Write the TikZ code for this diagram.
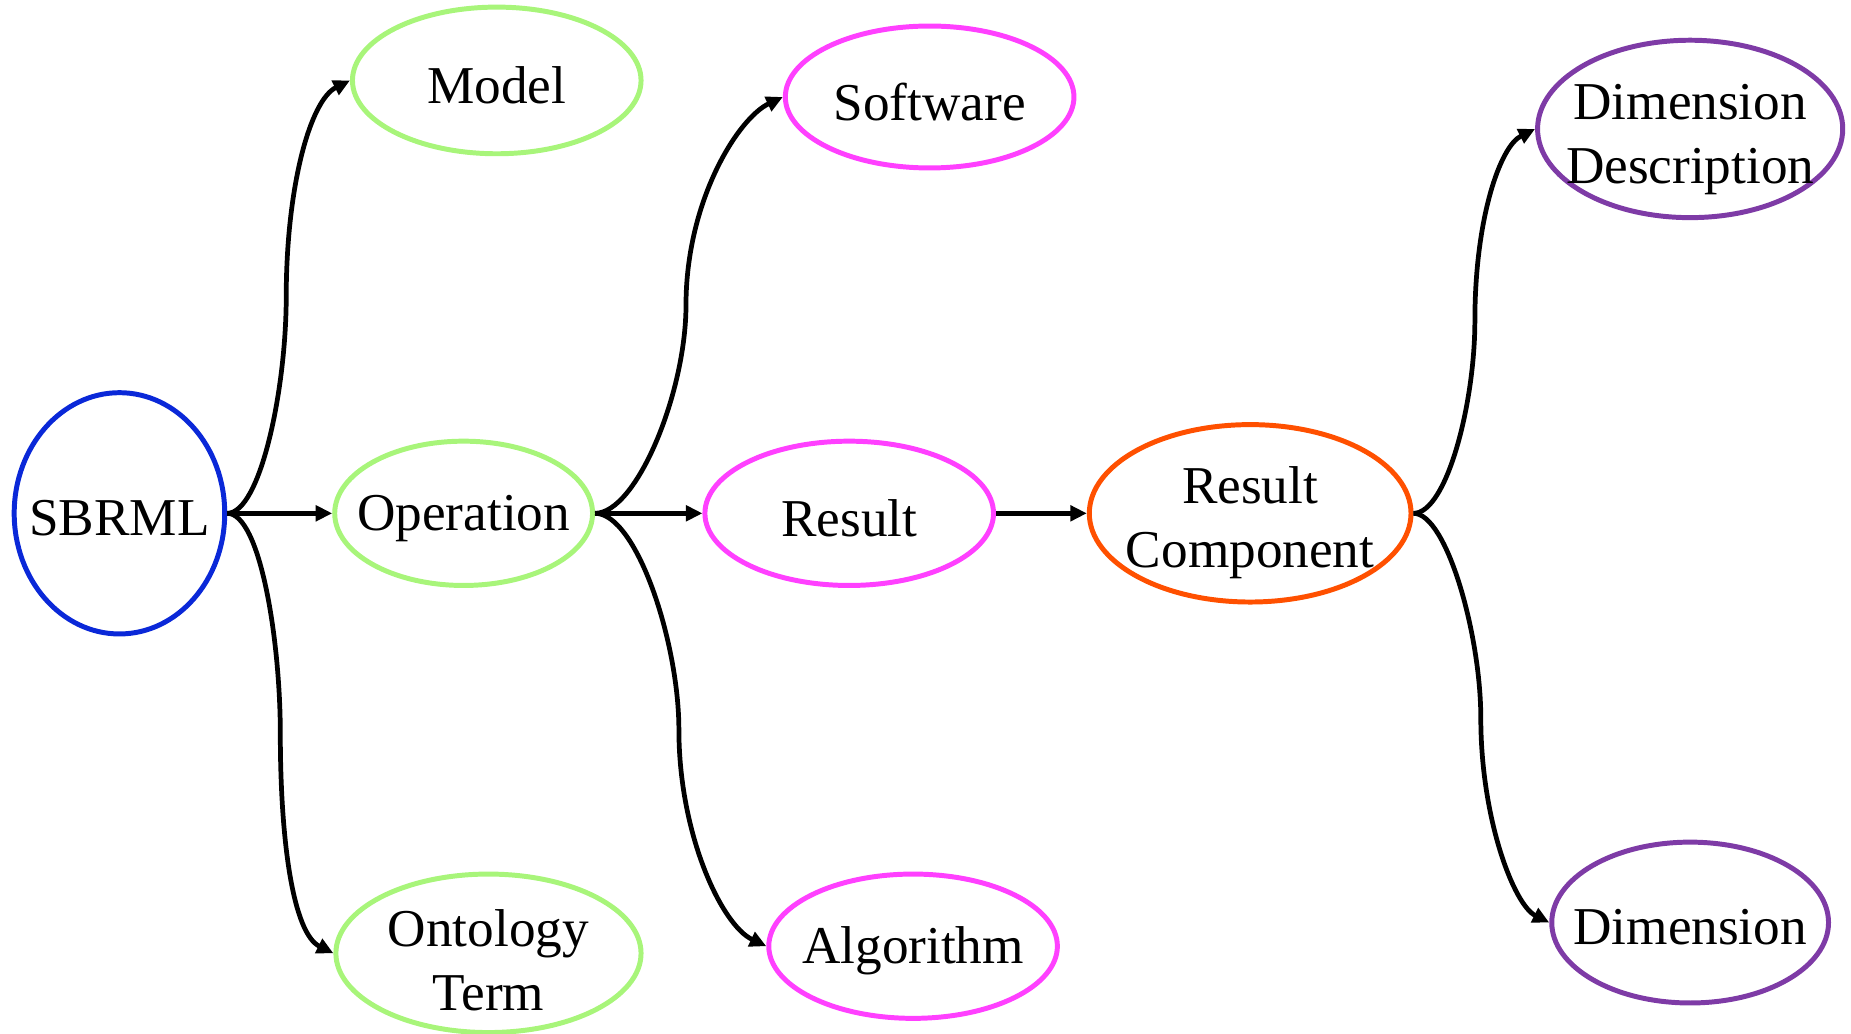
\documentclass[tikz,border=0pt]{standalone}
\usepackage{fontspec}
\setmainfont{Liberation Serif}
\usetikzlibrary{shapes.geometric,arrows.meta}
\definecolor{cblue}{RGB}{10,40,216}
\definecolor{cgreen}{RGB}{168,245,122}
\definecolor{cmag}{RGB}{255,64,255}
\definecolor{corange}{RGB}{255,80,0}
\definecolor{cpurple}{RGB}{126,59,166}
\begin{document}
\begin{tikzpicture}[x=0.5pt,y=-0.5pt,
  ent/.style={ellipse,draw,line width=2.1pt,inner sep=0pt},
  arr/.style={line width=2pt,-{Triangle[length=7pt,width=6.5pt]}},
  every label/.style={font=\fontsize{22.5}{27}\selectfont,align=center,inner sep=0pt,yshift=-2pt}]
\useasboundingbox (0,0) rectangle (1565,874.2);
% nodes
\node[ent,draw=cblue,minimum width=89pt,minimum height=102pt,label=center:SBRML] (sbrml) at (101,434) {};
\node[ent,draw=cgreen,minimum width=122pt,minimum height=62pt,label=center:Model] (model) at (420,68) {};
\node[ent,draw=cgreen,minimum width=109pt,minimum height=61pt,label=center:Operation] (op) at (392,434) {};
\node[ent,draw=cgreen,minimum width=129pt,minimum height=67pt,label={[yshift=-1pt]center:Ontology\\Term}] (ont) at (413,806) {};
\node[ent,draw=cmag,minimum width=122pt,minimum height=60pt,label=center:Software] (soft) at (786,82) {};
\node[ent,draw=cmag,minimum width=122pt,minimum height=61pt,label=center:Result] (res) at (718,434) {};
\node[ent,draw=cmag,minimum width=122pt,minimum height=61pt,label=center:Algorithm] (alg) at (772,800) {};
\node[ent,draw=corange,minimum width=136pt,minimum height=75pt,label={[yshift=-2pt]center:Result\\Component}] (rc) at (1057,434) {};
\node[ent,draw=cpurple,minimum width=129pt,minimum height=75pt,label={[yshift=-2.5pt]center:Dimension\\Description}] (dd) at (1429,109) {};
\node[ent,draw=cpurple,minimum width=117pt,minimum height=68pt,label=center:Dimension] (dim) at (1429,780) {};
% bend points
\coordinate (m1) at (242,251);
\coordinate (m2) at (237,620);
\coordinate (m3) at (580,258);
\coordinate (m4) at (574,617);
\coordinate (m5) at (1247,271);
\coordinate (m6) at (1252,607);
% connectors
\draw[arr] (sbrml.east) .. controls +(28,0) and +(0,78) .. (m1) .. controls +(0,-92) and +(-34,17) .. (model.west);
\draw[arr] (sbrml.east) -- (op.west);
\draw[arr] (sbrml.east) .. controls +(28,0) and +(0,-78) .. (m2) .. controls +(0,92) and +(-34,-17) .. (ont.west);
\draw[arr] (op.east) .. controls +(35,0) and +(0,74) .. (m3) .. controls +(0,-88) and +(-38,18) .. (soft.west);
\draw[arr] (op.east) -- (res.west);
\draw[arr] (op.east) .. controls +(35,0) and +(0,-74) .. (m4) .. controls +(0,88) and +(-38,-18) .. (alg.west);
\draw[arr] (res.east) -- (rc.west);
\draw[arr] (rc.east) .. controls +(28,0) and +(0,70) .. (m5) .. controls +(0,-85) and +(-30,15) .. (dd.west);
\draw[arr] (rc.east) .. controls +(28,0) and +(0,-70) .. (m6) .. controls +(0,85) and +(-30,-15) .. (dim.west);
\end{tikzpicture}
\end{document}
